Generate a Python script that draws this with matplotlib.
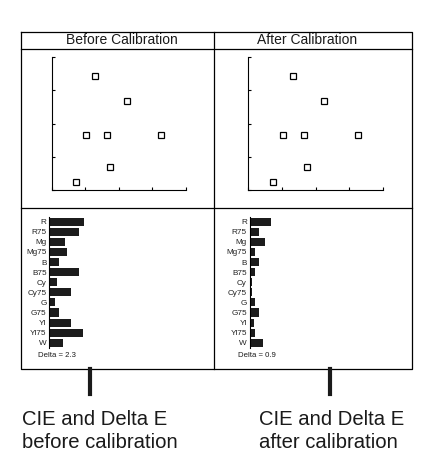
import numpy as np
import matplotlib
matplotlib.use("Agg")
import matplotlib.pyplot as plt

plt.rcParams['font.family'] = ['Liberation Sans', 'DejaVu Sans']

W, H = 440, 472

panel_titles = ["Before Calibration", "After Calibration"]
captions = [["CIE and Delta E", "before calibration"],
            ["CIE and Delta E", "after calibration"]]

# CIE scatter points (arbitrary chart units 0..4)
cie_before_x = [1.30, 2.24, 1.02, 1.64, 3.26, 1.74, 0.73]
cie_before_y = [3.43, 2.68, 1.65, 1.65, 1.65, 0.70, 0.25]
cie_after_x = [1.32, 2.25, 1.02, 1.65, 3.26, 1.76, 0.74]
cie_after_y = [3.43, 2.68, 1.65, 1.65, 1.65, 0.70, 0.25]

patches = ["R", "R75", "Mg", "Mg75", "B", "B75", "Cy", "Cy75",
           "G", "G75", "Yl", "Yl75", "W"]
delta_before = [4.0, 3.4, 1.8, 2.0, 1.07, 3.4, 0.9, 2.5, 0.65, 1.1, 2.5, 3.9, 1.6]
delta_after = [2.45, 1.07, 1.75, 0.6, 1.07, 0.6, 0.27, 0.27, 0.6, 1.07, 0.5, 0.6, 1.55]
delta_labels = ["Delta = 2.3", "Delta = 0.9"]


def px_axes(fig, x0, y0, x1, y1):
    """add axes from pixel box (top-left origin)"""
    return fig.add_axes([x0 / W, 1 - y1 / H, (x1 - x0) / W, (y1 - y0) / H])


def draw_scatter(ax, xs, ys):
    ax.plot(xs, ys, ls='none', marker='s', ms=4.4, mfc='white',
            mec='black', mew=0.9, clip_on=False)
    ax.set_xlim(0, 4)
    ax.set_ylim(0, 4)
    ax.set_xticks(range(5))
    ax.set_yticks(range(5))
    ax.tick_params(direction='in', length=2.4, width=0.8,
                   labelbottom=False, labelleft=False)
    for s in ['top', 'right']:
        ax.spines[s].set_visible(False)
    for s in ['left', 'bottom']:
        ax.spines[s].set_linewidth(0.8)
    ax.patch.set_alpha(0)


def draw_bars(ax, values):
    ypos = np.arange(len(patches))
    ax.barh(ypos, values, height=0.8, color='#1c1c1c')
    ax.set_xlim(0, 16)
    ax.set_ylim(len(patches) - 0.45, -0.5)
    ax.set_yticks(ypos)
    ax.set_yticklabels(patches, fontsize=5.9, color='#222222')
    ax.set_xticks([])
    ax.tick_params(axis='y', length=0, pad=2)
    for s in ['top', 'right', 'bottom']:
        ax.spines[s].set_visible(False)
    ax.spines['left'].set_linewidth(0.8)
    ax.patch.set_alpha(0)


fig = plt.figure(figsize=(W / 100, H / 100), dpi=100)

# frame in pixel coordinates
frame = fig.add_axes([0, 0, 1, 1])
frame.set_xlim(0, W)
frame.set_ylim(H, 0)
frame.axis('off')
lw = 0.9
frame.plot([21, 412, 412, 21, 21], [32, 32, 369, 369, 32], color='black', lw=lw)
frame.plot([21, 412], [48.5, 48.5], color='black', lw=lw)
frame.plot([21, 412], [207.5, 207.5], color='black', lw=lw)
frame.plot([214, 214], [32, 369], color='black', lw=lw)

title_x = [122, 307]
tick_x = [90, 330]
caption_x = [21.5, 259]
for i in range(2):
    frame.text(title_x[i], 40.5, panel_titles[i], ha='center', va='center',
               fontsize=10.0, color='#1a1a1a')
    frame.plot([tick_x[i], tick_x[i]], [369, 394], color='#1a1a1a', lw=3)
    frame.text(caption_x[i], 425, captions[i][0], ha='left', va='baseline',
               fontsize=14.6, color='#1a1a1a')
    frame.text(caption_x[i], 447.7, captions[i][1], ha='left', va='baseline',
               fontsize=14.6, color='#1a1a1a')

# scatter panels
ax1 = px_axes(fig, 51.7, 57, 185.7, 190)
draw_scatter(ax1, cie_before_x, cie_before_y)
ax2 = px_axes(fig, 248.3, 57, 382.7, 190)
draw_scatter(ax2, cie_after_x, cie_after_y)

# delta E bars
bx = [49.3, 249.7]
for i, vals in enumerate([delta_before, delta_after]):
    ax = px_axes(fig, bx[i], 216.7, bx[i] + 8.7 * 16, 348.3)
    draw_bars(ax, vals)
    frame.text(bx[i] - 11.5, 355.7, delta_labels[i], ha='left', va='center',
               fontsize=5.6, color='#1a1a1a')

fig.savefig("out.png", dpi=100)
